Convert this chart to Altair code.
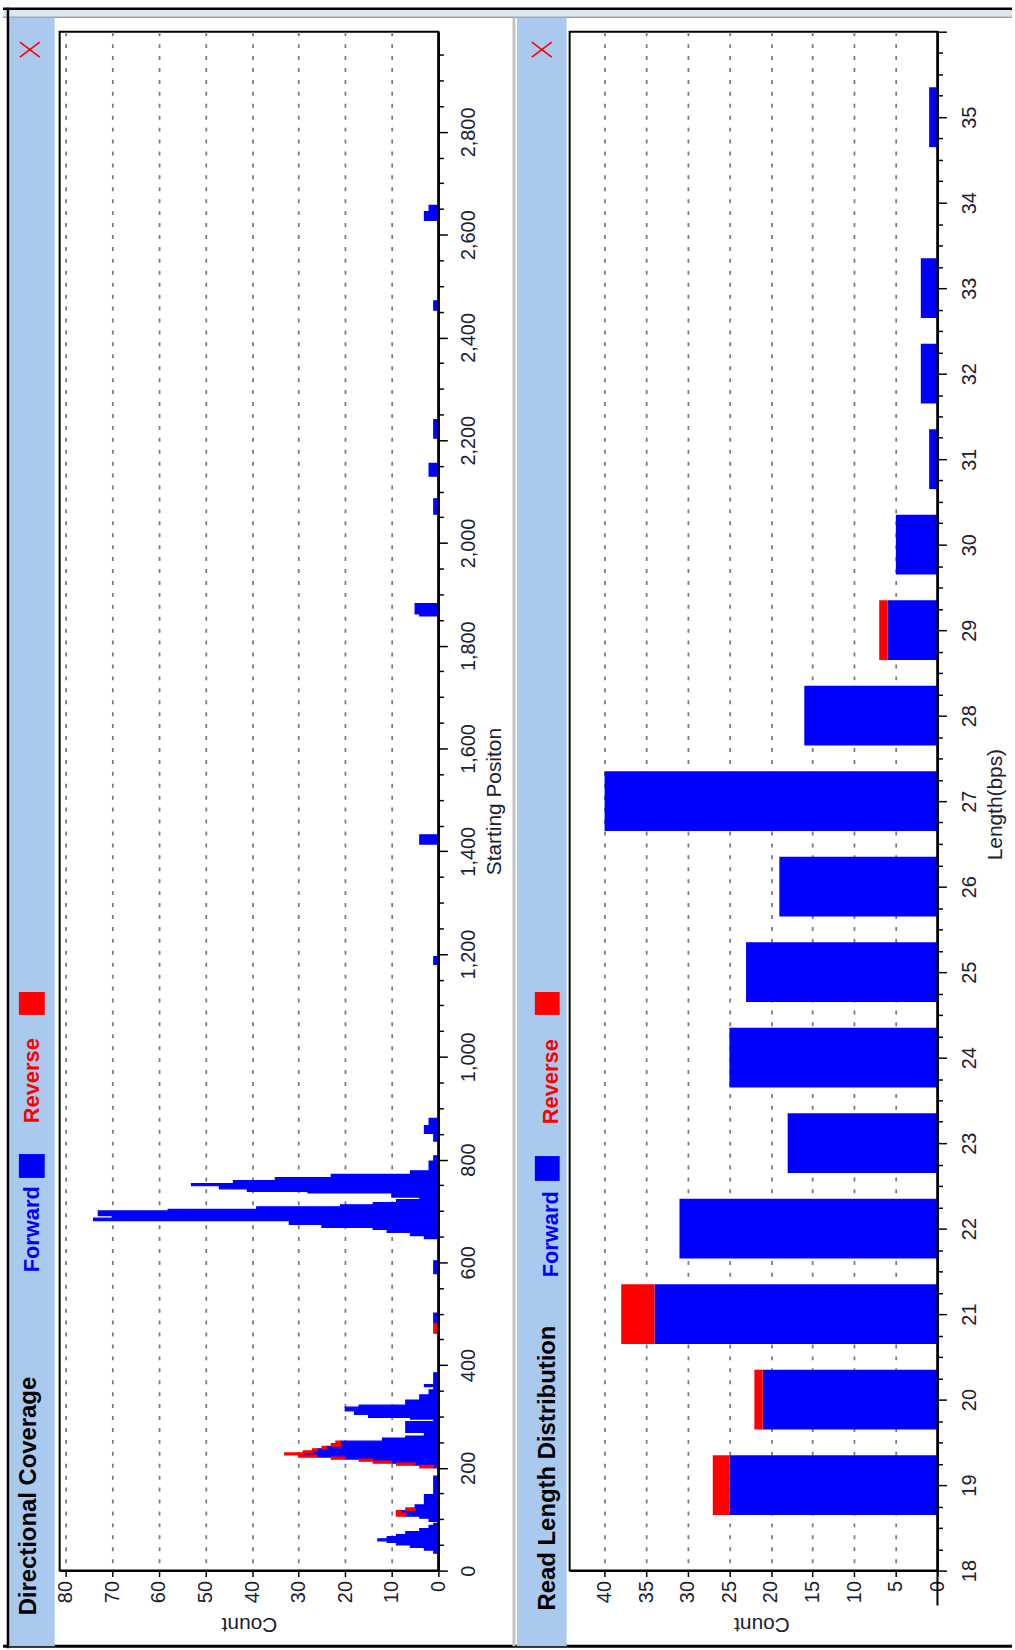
import altair as alt
import pandas as pd

# ---------------------------------------------------------------
# Directional Coverage: read counts over starting-position segments
# (segment start, segment end, forward count, reverse count)
# ---------------------------------------------------------------
seg_start = [34, 40, 45, 50, 55, 58, 62, 66, 70, 76, 82, 88,
             96, 102, 106, 112, 117, 122, 128, 148,
             200, 205, 209, 213, 217, 221, 225, 229, 233, 237, 242, 247, 252, 258, 262, 269,
             290, 295, 298, 304, 311, 318, 322, 332, 342, 352, 358, 362,
             462, 481, 578,
             646, 652, 658, 664, 668, 674, 681, 686, 691, 700, 703, 708, 712, 716, 722, 727,
             735, 738, 743, 749, 753, 759, 765, 771, 778, 797, 836, 851, 866,
             1180, 1414, 1858, 1862, 2056, 2130, 2204, 2453, 2628, 2645]
seg_end = [40, 45, 50, 55, 58, 62, 66, 70, 76, 82, 88, 92,
           102, 106, 112, 117, 122, 128, 148, 184,
           205, 209, 213, 217, 221, 225, 229, 233, 237, 242, 247, 252, 258, 262, 269, 290,
           295, 298, 304, 311, 318, 322, 332, 342, 352, 358, 362, 385,
           481, 501, 603,
           652, 658, 664, 668, 674, 681, 686, 691, 700, 703, 708, 712, 716, 722, 727, 735,
           738, 743, 749, 753, 759, 765, 771, 778, 797, 807, 851, 866, 880,
           1195, 1432, 1862, 1882, 2086, 2155, 2240, 2471, 2645, 2657]
seg_forward = [1, 3, 6, 9, 11, 13, 11, 9, 7, 4, 2, 1,
               2, 4, 7, 8, 5, 5, 3, 1,
               1, 5, 10, 14, 20, 26, 29, 27, 26, 24, 21, 21, 12, 7, 3, 7,
               1, 6, 15, 18, 20, 17, 7, 4, 2, 1, 3, 1,
               0, 1, 1,
               3, 6, 11, 14, 25, 32, 74, 70, 73, 58, 39, 21, 14, 9, 4, 10,
               28, 41, 47, 53, 44, 35, 23, 6, 2, 1, 1, 3, 2,
               1, 4, 4, 5, 1, 2, 1, 1, 3, 2]
seg_reverse = [0, 0, 0, 0, 0, 0, 0, 0, 0, 0, 0, 0,
               0, 0, 2, 1, 2, 0, 0, 0,
               3, 4, 4, 3, 3, 4, 4, 2, 1, 1, 2, 1, 0, 0, 0, 0,
               0, 0, 0, 0, 0, 0, 0, 0, 0, 0, 0, 0,
               1, 0, 0,
               0, 0, 0, 0, 0, 0, 0, 0, 0, 0, 0, 0, 0, 0, 0, 0,
               0, 0, 0, 0, 0, 0, 0, 0, 0, 0, 0, 0, 0,
               0, 0, 0, 0, 0, 0, 0, 0, 0, 0]

# ---------------------------------------------------------------
# Read Length Distribution
# ---------------------------------------------------------------
read_lengths = [19, 20, 21, 22, 23, 24, 25, 26, 27, 28, 29, 30, 31, 32, 33, 34, 35]
len_forward = [25, 21, 34, 31, 18, 25, 23, 19, 40, 16, 6, 5, 1, 2, 2, 0, 1]
len_reverse = [2, 1, 4, 0, 0, 0, 0, 0, 0, 0, 1, 0, 0, 0, 0, 0, 0]

# axis tick values
cov_count_ticks = [0, 10, 20, 30, 40, 50, 60, 70, 80]
len_count_ticks = [0, 5, 10, 15, 20, 25, 30, 35, 40]
position_ticks = list(range(0, 3000, 50))
length_ticks = [18 + 0.25 * i for i in range(73)]

BLUE = "#0000ff"
RED = "#ff0000"
HEADER = "#a9c9ee"
FONT = "Liberation Sans"
LABEL = "#20202e"

W1, W2, H = 381, 370, 1548

cov = pd.DataFrame({"start": seg_start, "end": seg_end,
                    "fwd": seg_forward, "rev": seg_reverse})
rl = pd.DataFrame({"length": read_lengths, "fwd": len_forward, "rev": len_reverse})

one = alt.Data(values=[{"k": 1}])


def rect(x, x2, y, y2, **kw):
    return alt.Chart(one).mark_rect(**kw).encode(
        x=alt.value(x), x2=alt.value(x2), y=alt.value(y), y2=alt.value(y2))


def rule(x, x2, y, y2, **kw):
    return alt.Chart(one).mark_rule(**kw).encode(
        x=alt.value(x), x2=alt.value(x2), y=alt.value(y), y2=alt.value(y2))


def vtext(x, y, text, **kw):
    return alt.Chart(one).mark_text(text=text, angle=270, align="left",
                                    baseline="alphabetic", font=FONT, **kw).encode(
        x=alt.value(x), y=alt.value(y))


def close_x(cx, cy):
    return [rule(cx - 10, cx + 10, cy - 7.5, cy + 7.5, color=RED, strokeWidth=1.6),
            rule(cx - 10, cx + 10, cy + 7.5, cy - 7.5, color=RED, strokeWidth=1.6)]


def header(x0, x1, base_x, title, title_y, fwd_y, rev_y, sq0, sq1, blue_y, red_y, xc):
    return [
        rect(x0, x1, -14, 1624, color=HEADER),
        vtext(base_x, title_y, title, fontSize=24, fontWeight="bold", color="black"),
        vtext(base_x + 3, fwd_y, "Forward", fontSize=22, fontWeight="bold", color=BLUE),
        rect(sq0, sq1, blue_y[0], blue_y[1], color=BLUE),
        vtext(base_x + 3, rev_y, "Reverse", fontSize=22, fontWeight="bold", color=RED),
        rect(sq0, sq1, red_y[0], red_y[1], color=RED),
    ] + close_x(xc, 18)


def count_axis(values, width, title_dx):
    return alt.Axis(values=values, labelAngle=270, labelAlign="right",
                    labelBaseline="middle", labelPadding=4, labelFlush=False,
                    labelFontSize=20, tickSize=6, grid=True, gridDash=[4, 8],
                    gridColor="#7c7c7c", gridWidth=1.8, titleAngle=180,
                    titleX=width / 2 + title_dx, titleY=53, titleAlign="center",
                    titleBaseline="middle", titleFontSize=21)


def side_axis(values, label_expr, major_test, title_x, title_y, pad):
    return alt.Axis(orient="right", values=values, labelExpr=label_expr,
                    labelAngle=270, labelAlign="center", labelBaseline="top",
                    labelPadding=pad, labelOverlap=False, labelFlush=False,
                    labelFontSize=20, grid=False,
                    tickSize={"condition": {"test": major_test, "value": 9}, "value": 5},
                    titleAngle=270, titleX=title_x, titleY=title_y,
                    titleAlign="center", titleBaseline="middle", titleFontSize=21)


# ---------------- Directional Coverage panel ----------------
x_cov = alt.X("a:Q", title="Count",
              scale=alt.Scale(domain=[0, 81.3], reverse=True, nice=False, zero=False),
              axis=count_axis(cov_count_ticks, W1, 0))
y_cov = alt.Y("start:Q", title="Starting Positon",
              scale=alt.Scale(domain=[0, 2995], nice=False, zero=False),
              axis=side_axis(position_ticks,
                             "datum.value % 200 === 0 ? format(datum.value, ',') : ''",
                             "datum.value % 200 === 0", 56, 774, 11))

# a thin same-colour outline closes the hairline gaps between adjacent segments
cov_fwd = alt.Chart(cov).transform_filter("datum.fwd > 0").transform_calculate(
    a="0", b="datum.fwd").mark_rect(color=BLUE, stroke=BLUE, strokeWidth=1.2).encode(
    x=x_cov, x2=alt.X2("b:Q"), y=y_cov, y2=alt.Y2("end:Q"))
cov_rev = alt.Chart(cov).transform_filter("datum.rev > 0").transform_calculate(
    a="datum.fwd", b="datum.fwd + datum.rev").mark_rect(
    color=RED, stroke=RED, strokeWidth=1.2).encode(
    x=x_cov, x2=alt.X2("b:Q"), y=y_cov, y2=alt.Y2("end:Q"))

left_layers = [
    # whole-page extent (invisible) and window frame
    rect(-57, 958, -24, 1626, color="white", opacity=0),
    rect(-57, 958, -22, -15, color="#dde6f0"),
    rule(-57, 958, -14.5, -14.5, color="#9aa3ad", strokeWidth=1.5),
    rule(-57, 958, -23, -23, color="black", strokeWidth=2.5),
    rule(-57, 958, 1624, 1624, color="black", strokeWidth=3),
    rule(457, 457, -14, 1624, color="#c4c4c4", strokeWidth=3),
] + header(-52, -5, -24, "Directional Coverage", 1593, 1248, 1098,
           -41, -15, (1129, 1153), (966, 989), -30) + [
    rule(-52, -52, -24, 1626, color="black", strokeWidth=2.5),
    cov_fwd,
    cov_rev,
    rule(W1, W1, 0, H, color="black", strokeWidth=2),
]
left = alt.layer(*left_layers).properties(width=W1, height=H)

# ---------------- Read Length Distribution panel ----------------
x_len = alt.X("a:Q", title="Count",
              scale=alt.Scale(domain=[0, 44.2], reverse=True, nice=False, zero=False),
              axis=count_axis(len_count_ticks, W2, 8))
y_len = alt.Y("lo:Q", title="Length(bps)",
              scale=alt.Scale(domain=[18, 36], nice=False, zero=False),
              axis=side_axis(length_ticks,
                             "datum.value % 1 === 0 && datum.value < 36 ? '' + datum.value : ''",
                             "datum.value % 1 === 0", 58, 777, 13))

len_fwd = alt.Chart(rl).transform_filter("datum.fwd > 0").transform_calculate(
    a="0", b="datum.fwd", lo="datum.length - 0.35", hi="datum.length + 0.35").mark_rect(
    color=BLUE).encode(x=x_len, x2=alt.X2("b:Q"), y=y_len, y2=alt.Y2("hi:Q"))
len_rev = alt.Chart(rl).transform_filter("datum.rev > 0").transform_calculate(
    a="datum.fwd", b="datum.fwd + datum.rev",
    lo="datum.length - 0.35", hi="datum.length + 0.35").mark_rect(
    color=RED).encode(x=x_len, x2=alt.X2("b:Q"), y=y_len, y2=alt.Y2("hi:Q"))

right_layers = header(-53, -3, -15, "Read Length Distribution", 1588, 1253, 1099,
                      -35, -10, (1131, 1156), (966, 989), -28) + [
    len_fwd,
    len_rev,
    rule(W2, W2, 0, H + 35, color="black", strokeWidth=2),
]
right = alt.layer(*right_layers).properties(width=W2, height=H)

chart = alt.hconcat(left, right, spacing=132, bounds="flush").resolve_scale(
    x="independent", y="independent"
).properties(
    padding=0, background="white"
).configure_view(
    stroke="black", strokeWidth=2
).configure_axis(
    labelFont=FONT, titleFont=FONT, labelColor=LABEL, titleColor=LABEL,
    titleFontWeight="normal", domainColor="black", domainWidth=2,
    tickColor="black", tickWidth=1.5
)

chart.save("out.html", embed_options={"renderer": "svg", "actions": False})
